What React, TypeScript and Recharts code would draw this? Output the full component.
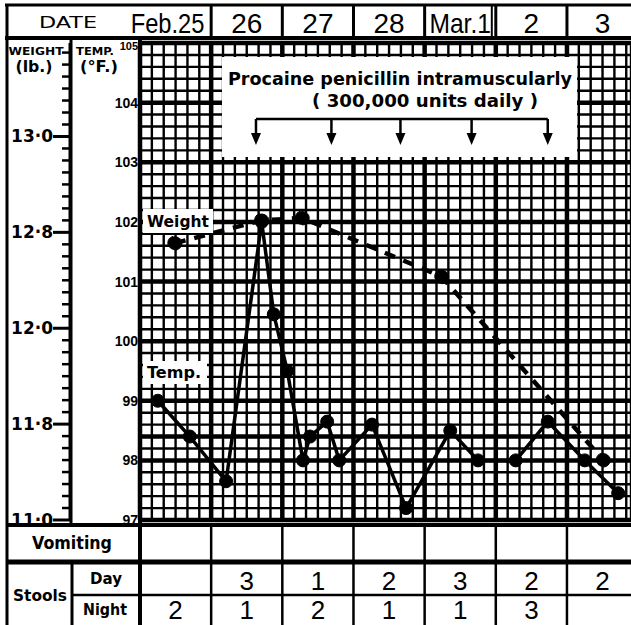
import React from 'react';
import { ComposedChart, Line, XAxis, YAxis, CartesianGrid, ReferenceLine } from 'recharts';

// ---------- data ----------
const dateLabels = ['Feb.25', '26', '27', '28', 'Mar.1', '2', '3'];
// time in days from start of Feb 25, temperature in °F
const tempTimes = [0.25, 0.7, 1.21, 1.71, 1.88, 2.07, 2.29, 2.39, 2.63, 2.8, 3.26, 3.74, 4.36, 4.75, 5.28, 5.73, 6.25, 6.72];
const tempValues = [99.0, 98.4, 97.65, 102.0, 100.45, 99.5, 98.0, 98.4, 98.65, 98.0, 98.6, 97.2, 98.5, 98.0, 98.0, 98.65, 98.0, 97.45];
// weight in ounces (lb*16 + oz)
const weightTimes = [0.49, 1.71, 2.28, 4.24, 6.51];
const weightOz = [199.1, 201.0, 201.2, 196.3, 181.0];
const injectionTimes = [1.63, 2.69, 3.66, 4.66, 5.73];
const stoolsDay = ['', '3', '1', '2', '3', '2', '2'];
const stoolsNight = ['2', '1', '2', '1', '1', '3', ''];
const weightMajorTicks = [176, 184, 192, 200, 208];
const weightMajorLabels = ['11·0', '11·8', '12·0', '12·8', '13·0'];
const tempMajorTicks = [97, 98, 99, 100, 101, 102, 103, 104, 105];
const normalTemp = 98.4;

// ---------- layout ----------
const W = 631;
const H = 625;
const PL = 140;
const PT = 43;
const PB = 520;
const X_MAX = 6.9;
const px = (d: number) => PL + (d * (W - PL)) / X_MAX;

const tempData = tempTimes.map((d, i) => ({ d, t: tempValues[i] }));
const weightData = weightTimes.map((d, i) => ({ d, w: weightOz[i] }));
const xGridTicks = Array.from({ length: 42 }, (_, i) => i / 6);
const tempTicks = Array.from({ length: 41 }, (_, i) => Math.round((97 + i * 0.2) * 10) / 10);
const weightTicks = Array.from({ length: 40 }, (_, i) => 176 + i);

const BOLD = '"DejaVu Sans", Verdana, sans-serif';
const NUM = '"Liberation Sans", Arial, sans-serif';
const HAND = '"Liberation Sans", Arial, sans-serif';

const TempTick = (props: any) => {
  const { x, y, payload } = props;
  const v = payload.value;
  if (!tempMajorTicks.includes(v)) return <g />;
  return (
    <text x={x} y={y} dy={v === 105 ? 7 : 5} textAnchor="end" fontFamily={NUM} fontWeight={700} fontSize={v === 105 ? 11 : 14} fill="#000">
      {v}
    </text>
  );
};

const WeightTick = (props: any) => {
  const { x, y, payload } = props;
  const v = payload.value;
  const idx = weightMajorTicks.indexOf(v);
  if (idx < 0) {
    return <line x1={x - 8} x2={x} y1={y} y2={y} stroke="#000" strokeWidth={2.5} />;
  }
  return (
    <g>
      <line x1={x - 17} x2={x} y1={y} y2={y} stroke="#000" strokeWidth={3} />
      <text x={x - 17} y={y} dy={6} textAnchor="end" fontFamily={BOLD} fontWeight={700} fontSize={17} fill="#000">
        {weightMajorLabels[idx]}
      </text>
    </g>
  );
};

const HandText = ({ x, y, s, size }: { x: number; y: number; s: string; size: number }) => (
  <text
    x={x}
    y={y}
    textAnchor="middle"
    fontFamily={HAND}
    fontSize={size}
    fill="#000"
    textLength={s.length > 2 ? s.length * 12.3 : undefined}
    lengthAdjust={s.length > 2 ? 'spacingAndGlyphs' : undefined}
  >
    {s}
  </text>
);

const Overlay = () => {
  const days = [1, 2, 3, 4, 5, 6];
  const colCenter = (i: number) => (px(i) + Math.min(px(i + 1), W + 10)) / 2;
  const arrowY = 119;
  return (
    <svg width={W} height={H} style={{ position: 'absolute', left: 0, top: 0, pointerEvents: 'none' }}>
      {/* annotation boxes */}
      <rect x={222} y={57} width={355} height={100} fill="#fff" />
      <rect x={143} y={209} width={70} height={24} fill="#fff" />
      <rect x={143} y={361} width={64} height={23} fill="#fff" />
      <text x={400} y={85} textAnchor="middle" fontFamily={BOLD} fontWeight={700} fontSize={18} textLength={344} lengthAdjust="spacingAndGlyphs" fill="#000">
        Procaine penicillin intramuscularly
      </text>
      <text x={425} y={107} textAnchor="middle" fontFamily={BOLD} fontWeight={700} fontSize={18} textLength={226} lengthAdjust="spacingAndGlyphs" fill="#000">
        ( 300,000 units daily )
      </text>
      <line x1={px(injectionTimes[0])} x2={px(injectionTimes[injectionTimes.length - 1])} y1={arrowY} y2={arrowY} stroke="#000" strokeWidth={2.5} />
      {injectionTimes.map((d, i) => (
        <g key={i}>
          <line x1={px(d)} x2={px(d)} y1={arrowY} y2={136} stroke="#000" strokeWidth={2.5} />
          <polygon points={`${px(d) - 5},${133} ${px(d) + 5},${133} ${px(d)},${145}`} fill="#000" />
        </g>
      ))}
      <text x={147} y={227} fontFamily={BOLD} fontWeight={700} fontSize={16} textLength={62} lengthAdjust="spacingAndGlyphs" fill="#000">Weight</text>
      <text x={147} y={378} fontFamily={BOLD} fontWeight={700} fontSize={16} textLength={54} lengthAdjust="spacingAndGlyphs" fill="#000">Temp.</text>

      {/* header */}
      <line x1={5} x2={W} y1={5} y2={5} stroke="#000" strokeWidth={3} />
      <line x1={5} x2={W} y1={38} y2={38} stroke="#000" strokeWidth={4} />
      {days.map((d) => (
        <line key={d} x1={px(d)} x2={px(d)} y1={5} y2={38} stroke="#000" strokeWidth={3} />
      ))}
      <line x1={px(5) - 4} x2={px(5) - 4} y1={5} y2={38} stroke="#000" strokeWidth={2} />
      <text x={68} y={28} textAnchor="middle" fontFamily={BOLD} fontSize={15} textLength={58} lengthAdjust="spacingAndGlyphs" fill="#000">DATE</text>
      {dateLabels.map((s, i) => (
        <HandText key={i} x={i === 0 ? colCenter(i) - 8 : colCenter(i)} y={33} s={s} size={28} />
      ))}

      {/* left columns */}
      <line x1={7} x2={7} y1={5} y2={H} stroke="#000" strokeWidth={3} />
      <line x1={71} x2={71} y1={38} y2={525} stroke="#000" strokeWidth={3} />
      <line x1={PL} x2={PL} y1={38} y2={H} stroke="#000" strokeWidth={4} />
      <text x={36} y={55} textAnchor="middle" fontFamily={BOLD} fontWeight={700} fontSize={10} textLength={55} lengthAdjust="spacingAndGlyphs" fill="#000">WEIGHT</text>
      <text x={34} y={72} textAnchor="middle" fontFamily={BOLD} fontWeight={700} fontSize={16} textLength={37} lengthAdjust="spacingAndGlyphs" fill="#000">(lb.)</text>
      <text x={95} y={55} textAnchor="middle" fontFamily={BOLD} fontWeight={700} fontSize={10} textLength={38} lengthAdjust="spacingAndGlyphs" fill="#000">TEMP.</text>
      <text x={99} y={72} textAnchor="middle" fontFamily={BOLD} fontWeight={700} fontSize={16} textLength={38} lengthAdjust="spacingAndGlyphs" fill="#000">(°F.)</text>

      {/* bottom table */}
      <line x1={7} x2={W} y1={525} y2={525} stroke="#000" strokeWidth={4} />
      <line x1={7} x2={W} y1={562} y2={562} stroke="#000" strokeWidth={5} />
      <line x1={72} x2={W} y1={595} y2={595} stroke="#000" strokeWidth={2.5} />
      <line x1={72} x2={72} y1={562} y2={H} stroke="#000" strokeWidth={3} />
      {days.map((d) => (
        <line key={'b' + d} x1={px(d)} x2={px(d)} y1={525} y2={H} stroke="#000" strokeWidth={2.5} />
      ))}
      <text x={72} y={549} textAnchor="middle" fontFamily={BOLD} fontWeight={700} fontSize={17} textLength={80} lengthAdjust="spacingAndGlyphs" fill="#000">Vomiting</text>
      <text x={40} y={601} textAnchor="middle" fontFamily={BOLD} fontWeight={700} fontSize={15} textLength={54} lengthAdjust="spacingAndGlyphs" fill="#000">Stools</text>
      <text x={106} y={584} textAnchor="middle" fontFamily={BOLD} fontWeight={700} fontSize={15} textLength={32} lengthAdjust="spacingAndGlyphs" fill="#000">Day</text>
      <text x={105} y={615} textAnchor="middle" fontFamily={BOLD} fontWeight={700} fontSize={15} textLength={44} lengthAdjust="spacingAndGlyphs" fill="#000">Night</text>
      {stoolsDay.map((s, i) => (
        <HandText key={'d' + i} x={colCenter(i)} y={590} s={s} size={26} />
      ))}
      {stoolsNight.map((s, i) => (
        <HandText key={'n' + i} x={colCenter(i)} y={619} s={s} size={26} />
      ))}
    </svg>
  );
};

export default function App() {
  return (
    <div style={{ position: 'absolute', left: 0, top: 0, width: W, height: H, background: '#fff', overflow: 'hidden' }}>
      <ComposedChart width={W} height={H} margin={{ top: PT, right: 0, bottom: H - PB, left: 0 }}>
        <XAxis xAxisId={0} dataKey="d" type="number" domain={[0, X_MAX]} ticks={xGridTicks} interval={0} allowDataOverflow hide />
        <YAxis
          yAxisId="t"
          orientation="left"
          width={70}
          type="number"
          domain={[97, 105]}
          ticks={tempTicks}
          interval={0}
          tickSize={0}
          tickMargin={2}
          tickLine={false}
          axisLine={false}
          tick={<TempTick />}
          allowDataOverflow
        />
        <YAxis
          yAxisId="w"
          orientation="left"
          width={70}
          type="number"
          domain={[176, 215.8]}
          ticks={weightTicks}
          interval={0}
          tickSize={0}
          tickMargin={0}
          tickLine={false}
          axisLine={{ stroke: '#000', strokeWidth: 3 }}
          tick={<WeightTick />}
          allowDataOverflow
        />
        <CartesianGrid yAxisId="t" xAxisId={0} stroke="#000" strokeWidth={2.4} strokeOpacity={1} />
        {[0, 1, 2, 3, 4, 5, 6].map((d) => (
          <ReferenceLine key={'vx' + d} xAxisId={0} yAxisId="t" x={d} stroke="#000" strokeWidth={4.5} />
        ))}
        {tempMajorTicks.map((t) => (
          <ReferenceLine key={'hy' + t} xAxisId={0} yAxisId="t" y={t} stroke="#000" strokeWidth={4.5} />
        ))}
        <ReferenceLine xAxisId={0} yAxisId="t" y={normalTemp} stroke="#000" strokeWidth={4.5} />
        <Line
          data={weightData}
          xAxisId={0}
          yAxisId="w"
          dataKey="w"
          type="linear"
          stroke="#000"
          strokeWidth={4.5}
          strokeDasharray="11 9"
          dot={{ r: 7, fill: '#000', stroke: '#000', strokeWidth: 1 }}
          isAnimationActive={false}
        />
        <Line
          data={tempData}
          xAxisId={0}
          yAxisId="t"
          dataKey="t"
          type="linear"
          stroke="#000"
          strokeWidth={3.5}
          dot={{ r: 6.5, fill: '#000', stroke: '#000', strokeWidth: 1 }}
          isAnimationActive={false}
        />
      </ComposedChart>
      <Overlay />
    </div>
  );
}
